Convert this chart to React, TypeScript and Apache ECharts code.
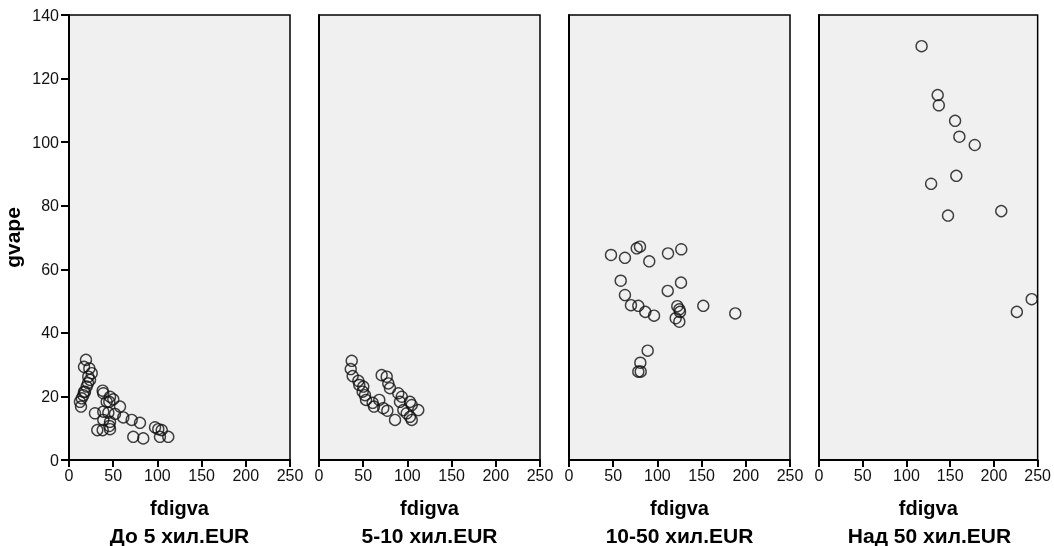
import React, { useEffect, useRef } from "react";
import * as echarts from "echarts";

const panelTitles = ["До 5 хил.EUR", "5-10 хил.EUR", "10-50 хил.EUR", "Над 50 хил.EUR"];
const xName = "fdigva";
const yName = "gvape";
const xMin = 0, xMax = 250, xStep = 50;
const yMin = 0, yMax = 140, yStep = 20;

const group1: [number, number][] = [
  [19.2, 31.5], [17.0, 29.3], [23.0, 28.8], [25.7, 27.3], [21.8, 26.2], [23.8, 25.2],
  [21.5, 24.2], [20.0, 23.1], [18.1, 21.5], [17.0, 21.4], [16.2, 20.4], [14.4, 19.4],
  [12.4, 18.3], [13.6, 16.8],
  [38.1, 21.8], [38.8, 21.0], [46.4, 19.9], [50.1, 19.1], [45.6, 18.3], [42.6, 18.3],
  [57.7, 16.8], [29.4, 14.7], [38.8, 15.2], [44.5, 14.9], [52.0, 14.5], [61.4, 13.4],
  [70.9, 12.6], [80.3, 11.7], [38.8, 12.6], [46.4, 12.0], [45.6, 10.7], [32.0, 9.4],
  [38.1, 9.4], [46.4, 9.7], [72.7, 7.3], [84.0, 6.8], [97.3, 10.3], [101.0, 9.7],
  [104.9, 9.4], [102.9, 7.3], [112.3, 7.3]
];

const group2: [number, number][] = [
  [37.0, 31.2], [35.9, 28.6], [38.1, 26.4], [44.5, 24.9], [45.6, 23.6], [50.1, 23.1],
  [49.4, 21.5], [52.0, 20.4], [53.2, 18.9], [60.7, 18.0], [62.2, 16.8], [68.2, 18.9],
  [72.7, 16.3], [77.3, 15.5], [86.0, 12.6],
  [70.9, 26.7], [76.6, 26.2], [78.4, 24.1], [80.3, 22.6], [89.7, 21.0], [93.6, 19.9],
  [91.6, 18.3], [102.9, 18.3], [104.9, 17.3], [95.4, 15.7], [99.2, 14.7], [102.9, 13.6],
  [112.3, 15.7], [104.9, 12.6]
];

const group3: [number, number][] = [
  [47.5, 64.5], [63.3, 63.6], [76.6, 66.6], [80.3, 67.1], [90.8, 62.5], [112.0, 65.0],
  [127.0, 66.3], [58.5, 56.4], [63.3, 51.9], [70.1, 48.7], [78.4, 48.5], [86.3, 46.6],
  [96.2, 45.4], [111.7, 53.2], [126.7, 55.8], [122.5, 48.4], [124.8, 47.4], [125.6, 46.6],
  [120.7, 44.6], [124.8, 43.5], [151.9, 48.5], [188.1, 46.1], [89.0, 34.4], [80.7, 30.6],
  [78.4, 27.8], [81.1, 27.8]
];

const group4: [number, number][] = [
  [117.3, 130.2], [135.7, 114.8], [137.0, 111.6], [155.6, 106.7], [160.5, 101.7],
  [178.1, 99.1], [157.0, 89.4], [128.2, 86.9], [147.5, 76.9], [208.4, 78.3],
  [243.2, 50.6], [226.2, 46.6]
];

const groups = [group1, group2, group3, group4];

const FONT = "'Liberation Sans', Arial, sans-serif";

export default function App() {
  const ref = useRef<HTMLDivElement>(null);
  useEffect(() => {
    if (!ref.current) return;
    const chart = echarts.init(ref.current, null, { renderer: "svg" });
    const left0 = 69, step = 250, w = 221, top = 15, h = 445;
    const grids = groups.map((_, i) => ({
      left: left0 + i * step, top, width: w, height: h,
      show: true, backgroundColor: "#f0f0f0", borderColor: "#000", borderWidth: 1.5,
    }));
    const xAxes = groups.map((_, i) => ({
      type: "value", gridIndex: i, min: xMin, max: xMax, interval: xStep,
      name: xName, nameLocation: "middle", nameGap: 38,
      nameTextStyle: { fontFamily: FONT, fontSize: 20, fontWeight: "bold", color: "#000" },
      axisLine: { show: true, onZero: false, lineStyle: { color: "#000", width: 2 } },
      axisTick: { show: true, length: 7, lineStyle: { color: "#000", width: 2 } },
      axisLabel: { fontFamily: FONT, fontSize: 16, color: "#111", margin: 7, showMaxLabel: true, showMinLabel: true },
      splitLine: { show: false },
    }));
    const yAxes = groups.map((_, i) => ({
      type: "value", gridIndex: i, min: yMin, max: yMax, interval: yStep,
      name: i === 0 ? yName : "", nameLocation: "middle", nameGap: 46,
      nameTextStyle: { fontFamily: FONT, fontSize: 21, fontWeight: "bold", color: "#000" },
      axisLine: { show: true, onZero: false, lineStyle: { color: "#000", width: 2 } },
      axisTick: { show: i === 0, length: 8, lineStyle: { color: "#000", width: 2 } },
      axisLabel: { show: i === 0, fontFamily: FONT, fontSize: 16, color: "#111", margin: 10 },
      splitLine: { show: false },
    }));
    const series = groups.map((g, i) => ({
      type: "scatter", xAxisIndex: i, yAxisIndex: i, data: g,
      symbol: "circle", symbolSize: 11,
      itemStyle: { color: "rgba(0,0,0,0)", borderColor: "#111", borderWidth: 1.4 },
      clip: false,
    }));
    const graphic = panelTitles.map((t, i) => ({
      type: "text",
      x: left0 + i * step + w / 2,
      y: 535,
      style: { text: t, fontFamily: FONT, fontSize: 21, fontWeight: "bold", fill: "#000", textAlign: "center", textVerticalAlign: "middle" },
    }));
    chart.setOption({
      animation: false,
      grid: grids,
      xAxis: xAxes,
      yAxis: yAxes,
      series,
      graphic,
    });
    return () => chart.dispose();
  }, []);
  return <div ref={ref} style={{ position: "fixed", left: 0, top: 0, width: 1054, height: 546 }} />;
}
